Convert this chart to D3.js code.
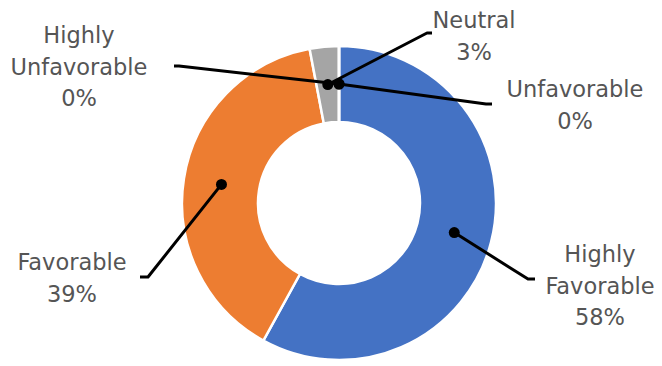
<!DOCTYPE html>
<html>
<head>
<meta charset="utf-8">
<script src="https://cdn.jsdelivr.net/npm/d3@7"></script>
<style>
  html, body { margin: 0; padding: 0; background: #fff; }
  svg { display: block; }
  .lbl { font-family: "DejaVu Sans", sans-serif; font-size: 22.5px; fill: #555555; }
</style>
</head>
<body>
<svg id="chart" width="662" height="366"></svg>
<script>
// Survey response categories and their shares (%)
const categories = ["Highly Favorable", "Favorable", "Neutral", "Unfavorable", "Highly Unfavorable"];
const values = [58, 39, 3, 0, 0];
const colors = ["#4472C4", "#ED7D31", "#A5A5A5", "#FFC000", "#5B9BD5"];

// Label placement: centre x, baseline of first line, leader elbow and end
const labelLayout = {
  "Highly Favorable":   { x: 600, y: 262, elbow: [528, 279], end: [535, 279], lines: ["Highly", "Favorable"] },
  "Favorable":          { x: 72,  y: 270, elbow: [148, 277], end: [140, 277], lines: ["Favorable"] },
  "Neutral":            { x: 474, y: 28,  elbow: [427, 33],  end: [432, 33],  lines: ["Neutral"] },
  "Unfavorable":        { x: 575, y: 97,  elbow: [486, 104], end: [492, 104], lines: ["Unfavorable"] },
  "Highly Unfavorable": { x: 79,  y: 43,  elbow: [179, 66],  end: [174, 66],  lines: ["Highly", "Unfavorable"] }
};

const cx = 339, cy = 203, outerR = 157, innerR = 81, lineGap = 31.5;

const svg = d3.select("#chart");
const g = svg.append("g").attr("transform", `translate(${cx},${cy})`);

const data = categories.map((c, i) => ({ category: c, value: values[i], color: colors[i] }));

const pie = d3.pie().sort(null).value(d => d.value).startAngle(0).endAngle(2 * Math.PI);
const arc = d3.arc().innerRadius(innerR).outerRadius(outerR);
const arcs = pie(data);

g.selectAll("path.slice")
  .data(arcs)
  .join("path")
  .attr("class", "slice")
  .attr("d", arc)
  .attr("fill", d => d.data.color)
  .attr("stroke", "#fff")
  .attr("stroke-width", 2.5);

// Leader lines from each slice centroid to its label
const leaders = svg.append("g");
arcs.forEach(a => {
  const L = labelLayout[a.data.category];
  const c = arc.centroid(a);
  const p0 = [cx + c[0], cy + c[1]];
  leaders.append("path")
    .attr("d", d3.line()([p0, L.elbow, L.end]))
    .attr("fill", "none")
    .attr("stroke", "#000")
    .attr("stroke-width", 3)
    .attr("stroke-linejoin", "round");
});
arcs.forEach(a => {
  const c = arc.centroid(a);
  leaders.append("circle")
    .attr("cx", cx + c[0]).attr("cy", cy + c[1])
    .attr("r", 5.5).attr("fill", "#000");
});

// Category labels with percentages
const fmt = v => `${d3.format(".0f")(v)}%`;
arcs.forEach(a => {
  const L = labelLayout[a.data.category];
  const lines = L.lines.concat([fmt(a.data.value)]);
  const t = svg.append("text").attr("class", "lbl").attr("text-anchor", "middle");
  lines.forEach((s, i) => {
    t.append("tspan").attr("x", L.x).attr("y", L.y + i * lineGap).text(s);
  });
});
</script>
</body>
</html>
